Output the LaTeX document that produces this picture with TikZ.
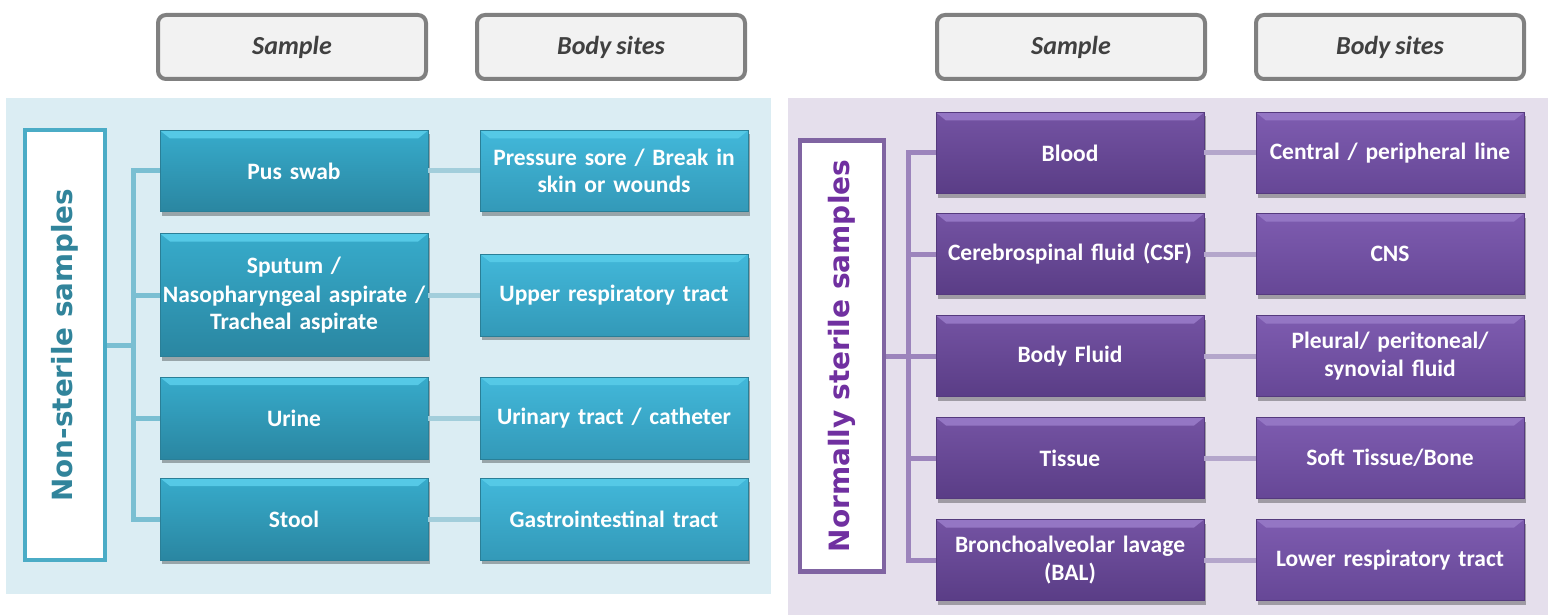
\documentclass[tikz,border=0pt]{standalone}
\usepackage{fontspec}
\setmainfont{Carlito}[WordSpace=0.85]
\newfontfamily\vfont{DejaVu Sans}
\usetikzlibrary{shadows}
\definecolor{bgblue}{HTML}{DBEDF3}
\definecolor{bgpurp}{HTML}{E5DFEC}
\definecolor{tealA}{HTML}{37ABCB}
\definecolor{tealB}{HTML}{2A86A1}
\definecolor{tealC}{HTML}{42B8DA}
\definecolor{tealD}{HTML}{3399B8}
\definecolor{tealbev}{HTML}{55C9E6}
\definecolor{tealedge}{HTML}{2A7F97}
\definecolor{purA}{HTML}{7453A3}
\definecolor{purB}{HTML}{5A3D86}
\definecolor{purC}{HTML}{7E5CB0}
\definecolor{purD}{HTML}{664796}
\definecolor{purbev}{HTML}{9476C4}
\definecolor{puredge}{HTML}{553A7E}
\definecolor{tealline}{HTML}{7ABFD2}
\definecolor{teallink}{HTML}{A2CEDB}
\definecolor{purline}{HTML}{9C84BC}
\definecolor{purlink}{HTML}{B4A6CB}
\definecolor{tealborder}{HTML}{4BACC6}
\definecolor{tealtext}{HTML}{31849B}
\definecolor{purborder}{HTML}{8064A2}
\definecolor{purtext}{HTML}{7030A0}
\tikzset{
  hdr/.style={draw=black!50, line width=4pt, fill=black!5, rounded corners=8pt,
    minimum width=268pt, minimum height=64pt, font=\fontsize{26}{30}\selectfont\bfseries\itshape, text=black!75},
  boxbase/.style={minimum width=268pt, text width=266pt, align=center, text=white,
    font=\fontsize{23.5}{27.5}\selectfont\bfseries, inner sep=0pt,
    drop shadow={shadow xshift=2pt, shadow yshift=-4pt, opacity=0.3, fill=black}},
  tsamp/.style={boxbase, draw=tealedge, line width=0.6pt, top color=tealA, bottom color=tealB,
    path picture={\fill[tealbev] (path picture bounding box.north west) -- (path picture bounding box.north east) -- ([xshift=-10pt,yshift=-8pt]path picture bounding box.north east) -- ([xshift=10pt,yshift=-8pt]path picture bounding box.north west) -- cycle;}},
  tbody/.style={boxbase, draw=tealedge, line width=0.6pt, top color=tealC, bottom color=tealD,
    path picture={\fill[tealbev] (path picture bounding box.north west) -- (path picture bounding box.north east) -- ([xshift=-10pt,yshift=-8pt]path picture bounding box.north east) -- ([xshift=10pt,yshift=-8pt]path picture bounding box.north west) -- cycle;}},
  psamp/.style={boxbase, draw=puredge, line width=0.6pt, top color=purA, bottom color=purB,
    path picture={\fill[purbev] (path picture bounding box.north west) -- (path picture bounding box.north east) -- ([xshift=-10pt,yshift=-8pt]path picture bounding box.north east) -- ([xshift=10pt,yshift=-8pt]path picture bounding box.north west) -- cycle;}},
  pbody/.style={boxbase, draw=puredge, line width=0.6pt, top color=purC, bottom color=purD,
    path picture={\fill[purbev] (path picture bounding box.north west) -- (path picture bounding box.north east) -- ([xshift=-10pt,yshift=-8pt]path picture bounding box.north east) -- ([xshift=10pt,yshift=-8pt]path picture bounding box.north west) -- cycle;}},
  lbl/.style={fill=white, line width=4.5pt, minimum width=430pt, minimum height=80pt, rotate=90,
    font=\vfont\fontsize{27.8}{30}\selectfont\bfseries, inner sep=0pt},
  tconn/.style={draw=tealline, line width=5pt},
  tlink/.style={draw=teallink, line width=5pt},
  pconn/.style={draw=purline, line width=5pt},
  plink/.style={draw=purlink, line width=5pt},
}
\begin{document}
\begin{tikzpicture}[x=1pt,y=-1pt]
\useasboundingbox (0,0) rectangle (1548,615);
% headers
\node[hdr] (hs1) at (292,47) {Sample};
\node[hdr] (hb1) at (611,47) {Body sites};
\node[hdr] (hs2) at (1071,47) {Sample};
\node[hdr] (hb2) at (1390,47) {Body sites};
% backgrounds
\fill[bgblue] (6,98) rectangle (771,594);
\fill[bgpurp] (788,98) rectangle (1548,615);
% left panel
\node[lbl, draw=tealborder, text=tealtext] (L) at (65,345) {Non-sterile samples};
\coordinate (lj) at (133,345);
\node[tsamp, minimum height=81pt] (s1) at (294,171) {Pus swab};
\node[tsamp, minimum height=123pt] (s2) at (294,295) {\fontsize{23.5}{29}\selectfont Sputum /\\Nasopharyngeal aspirate /\\Tracheal aspirate};
\node[tsamp, minimum height=82pt] (s3) at (294,418) {Urine};
\node[tsamp, minimum height=82pt] (s4) at (294,519) {Stool};
\node[tbody, minimum height=81pt] (b1) at (614,171) {\fontsize{23.5}{26}\selectfont Pressure sore / Break in\\skin or wounds};
\node[tbody, minimum height=82pt] (b2) at (614,295) {Upper respiratory tract};
\node[tbody, minimum height=82pt] (b3) at (614,418) {Urinary tract / catheter};
\node[tbody, minimum height=82pt] (b4) at (614,519) {Gastrointestinal tract};
% right panel
\node[lbl, draw=purborder, text=purtext, minimum width=431pt, minimum height=84pt, font=\vfont\fontsize{28}{30}\selectfont\bfseries] (R) at (842,356) {Normally sterile samples};
\coordinate (rj) at (908,356);
\node[psamp, minimum height=81pt] (p1) at (1070,153) {Blood};
\node[psamp, minimum height=81pt] (p2) at (1070,254) {Cerebrospinal fluid (CSF)};
\node[psamp, minimum height=81pt] (p3) at (1070,356) {Body Fluid};
\node[psamp, minimum height=81pt] (p4) at (1070,458) {Tissue};
\node[psamp, minimum height=81pt] (p5) at (1070,560) {\fontsize{23.5}{26}\selectfont Bronchoalveolar lavage\\(BAL)};
\node[pbody, minimum height=81pt] (q1) at (1390,153) {Central / peripheral line};
\node[pbody, minimum height=81pt] (q2) at (1390,254) {CNS};
\node[pbody, minimum height=81pt] (q3) at (1390,356) {Pleural/ peritoneal/\\synovial fluid};
\node[pbody, minimum height=81pt] (q4) at (1390,458) {Soft Tissue/Bone};
\node[pbody, minimum height=81pt] (q5) at (1390,560) {Lower respiratory tract};
% connectors left
\draw[tconn] (L.south) -- (lj);
\draw[tconn, line join=miter] (s1.west) -- (s1.west -| lj) -- (s4.west -| lj) -- (s4.west);
\draw[tconn] (s2.west -| lj) -- (s2.west);
\draw[tconn] (s3.west -| lj) -- (s3.west);
\draw[tlink] (s1) -- (b1);
\draw[tlink] (s2) -- (b2);
\draw[tlink] (s3) -- (b3);
\draw[tlink] (s4) -- (b4);
% connectors right
\draw[pconn] (R.south) -- (rj);
\draw[pconn, line join=miter] (p1.west) -- (p1.west -| rj) -- (p5.west -| rj) -- (p5.west);
\draw[pconn] (p2.west -| rj) -- (p2.west);
\draw[pconn] (p3.west -| rj) -- (p3.west);
\draw[pconn] (p4.west -| rj) -- (p4.west);
\draw[plink] (p1) -- (q1);
\draw[plink] (p2) -- (q2);
\draw[plink] (p3) -- (q3);
\draw[plink] (p4) -- (q4);
\draw[plink] (p5) -- (q5);
\end{tikzpicture}
\end{document}
